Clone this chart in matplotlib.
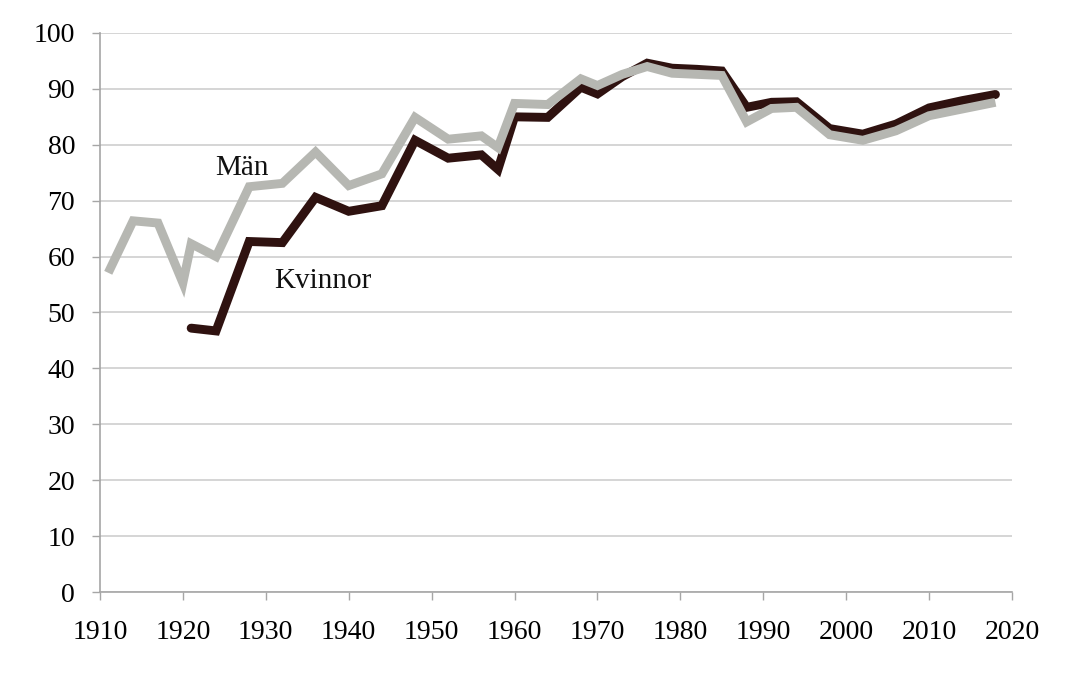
import matplotlib.pyplot as plt

# ============================================================
# DATA (valdeltagande)
# ============================================================
years_man = [1911, 1914, 1917, 1920, 1921, 1924, 1928, 1932, 1936, 1940, 1944,
             1948, 1952, 1956, 1958, 1960, 1964, 1968, 1970, 1973, 1976, 1979,
             1982, 1985, 1988, 1991, 1994, 1998, 2002, 2006, 2010, 2014, 2018]
man = [57.1, 66.4, 66.0, 55.3, 62.3, 60.0, 72.5, 73.1, 78.7, 72.7, 74.8,
       84.9, 81.0, 81.6, 79.5, 87.4, 87.2, 91.8, 90.6, 92.6, 94.0, 92.8,
       92.6, 92.4, 84.1, 86.5, 86.7, 81.8, 80.8, 82.5, 85.2, 86.4, 87.6]

years_kvinnor = [1921, 1924, 1928, 1932, 1936, 1940, 1944,
                 1948, 1952, 1956, 1958, 1960, 1964, 1968, 1970, 1973, 1976, 1979,
                 1982, 1985, 1988, 1991, 1994, 1998, 2002, 2006, 2010, 2014, 2018]
kvinnor = [47.2, 46.7, 62.7, 62.5, 70.6, 68.1, 69.1,
           80.8, 77.6, 78.2, 75.6, 85.0, 84.9, 90.3, 89.1, 92.2, 94.6, 93.7,
           93.5, 93.2, 86.7, 87.6, 87.7, 82.9, 81.9, 83.7, 86.6, 87.9, 89.0]

x_ticks = list(range(1910, 2021, 10))
y_ticks = list(range(0, 101, 10))

GRAY = "#B6B7B2"
DARK = "#2F1210"
AXIS = "#A6A6A6"

# ============================================================
# PLOT
# ============================================================
plt.rcParams["font.family"] = "Liberation Serif"

fig = plt.figure(figsize=(10.69, 6.8), dpi=100)
ax = fig.add_axes([0.0935, 0.1294, 0.8532, 0.8221])

ax.plot(years_kvinnor, kvinnor, color=DARK, lw=6.4, solid_capstyle="round",
        solid_joinstyle="miter", zorder=3)
ax.plot(years_man, man, color=GRAY, lw=6.4, solid_capstyle="butt",
        solid_joinstyle="miter", zorder=4)

ax.text(1927.1, 75.8, "Män", fontsize=21, ha="center", va="center", color="#111111")
ax.text(1936.9, 55.6, "Kvinnor", fontsize=21, ha="center", va="center", color="#111111")

ax.set_xlim(1910, 2020)
ax.set_ylim(0, 100)
ax.set_xticks(x_ticks)
ax.set_yticks(y_ticks)

ax.yaxis.grid(True, color="#CACACA", lw=1.1)
ax.set_axisbelow(True)

for side in ["top", "right"]:
    ax.spines[side].set_visible(False)
for side in ["left", "bottom"]:
    ax.spines[side].set_color(AXIS)
    ax.spines[side].set_linewidth(1.2)

ax.tick_params(axis="x", direction="out", length=5.8, width=1, color=AXIS,
               labelsize=20, pad=14)
ax.tick_params(axis="y", direction="out", length=5.8, width=1, color=AXIS,
               labelsize=20, pad=12)

fig.savefig("out.png", dpi=100)
